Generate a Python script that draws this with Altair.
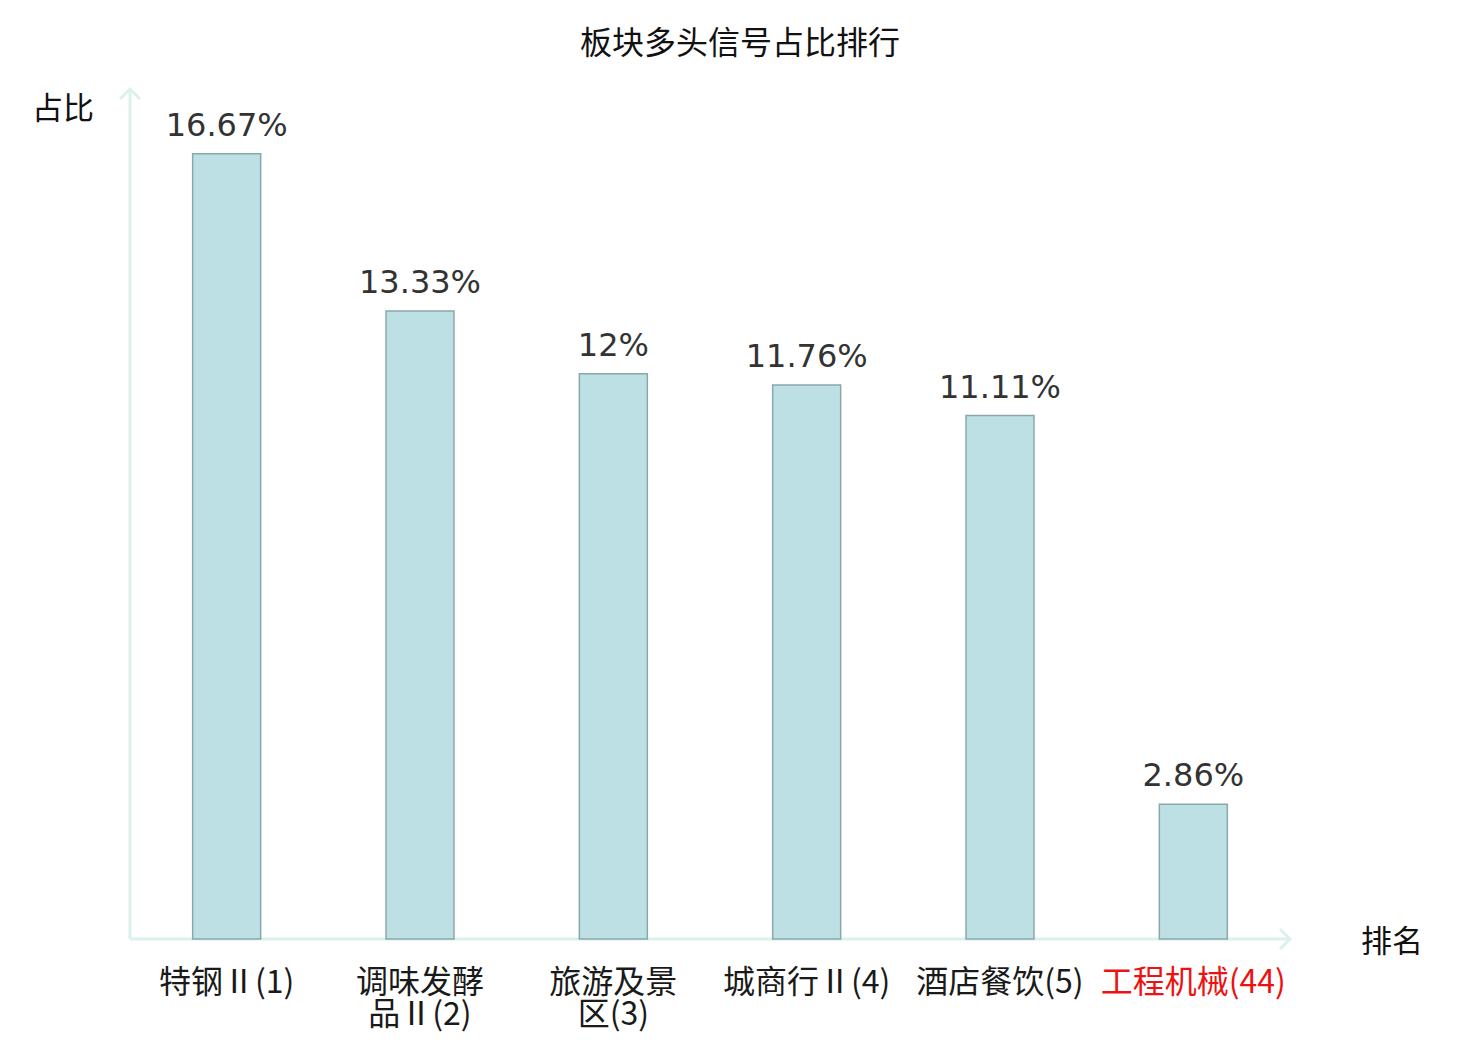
import altair as alt
import pandas as pd

categories = ["特钢Ⅱ(1)", "调味发酵\n品Ⅱ(2)", "旅游及景\n区(3)", "城商行Ⅱ(4)", "酒店餐饮(5)", "工程机械(44)"]
values = [16.67, 13.33, 12.0, 11.76, 11.11, 2.86]
value_labels = ["16.67%", "13.33%", "12%", "11.76%", "11.11%", "2.86%"]
highlight = "工程机械"
title_text = "板块多头信号占比排行"
y_name = "占比"
x_name = "排名"

df = pd.DataFrame({"cat": categories, "val": values, "lbl": value_labels})

W, H = 1160, 848
CJK = "Noto Sans CJK SC"
AXIS_COLOR = "#dcf0ed"

x_enc = alt.X(
    "cat:N",
    sort=categories,
    scale=alt.Scale(paddingInner=0, paddingOuter=0),
    axis=alt.Axis(
        title=None,
        domain=False,
        ticks=False,
        labelAngle=0,
        labelFont=CJK,
        labelFontSize=32,
        labelLineHeight=32,
        labelPadding=28,
        labelLimit=400,
        labelExpr="split(datum.value, '\\n')",
        labelColor=alt.ExprRef(expr=f"indexof(datum.value, '{highlight}') >= 0 ? '#ee1111' : '#1a1a1a'"),
    ),
)
y_enc = alt.Y("val:Q", scale=alt.Scale(domain=[0, 18], nice=False, zero=True), axis=None)

base = alt.Chart(df)

bars = base.mark_bar(size=68, fill="#bce0e3", stroke="#8aa8a9", strokeWidth=1.5).encode(x=x_enc, y=y_enc)

texts = base.mark_text(
    font="DejaVu Sans", fontSize=32, color="#333333", baseline="alphabetic", dy=-18
).encode(x=alt.X("cat:N", sort=categories), y="val:Q", text="lbl:N")

one = alt.Chart(pd.DataFrame({"a": [0]}))

x_rule = one.mark_rule(color=AXIS_COLOR, strokeWidth=3).encode(
    x=alt.value(0), x2=alt.value(W), y=alt.value(H)
)
y_rule = one.mark_rule(color=AXIS_COLOR, strokeWidth=3).encode(
    x=alt.value(0), y=alt.value(-2), y2=alt.value(H)
)
x_arrow = one.mark_point(
    shape="M -1 -1 L 0 0 L -1 1", filled=False, size=400, stroke=AXIS_COLOR, strokeWidth=3, opacity=1
).encode(x=alt.value(W), y=alt.value(H))
y_arrow = one.mark_point(
    shape="M -1 1 L 0 0 L 1 1", filled=False, size=400, stroke=AXIS_COLOR, strokeWidth=3, opacity=1
).encode(x=alt.value(0), y=alt.value(-2))

title = one.mark_text(font=CJK, fontSize=32, color="#111111", align="center", baseline="middle").encode(
    x=alt.value(610), y=alt.value(-47), text=alt.value(title_text)
)
yname = one.mark_text(font=CJK, fontSize=31, color="#111111", align="center", baseline="middle").encode(
    x=alt.value(-67), y=alt.value(19), text=alt.value(y_name)
)
xname = one.mark_text(font=CJK, fontSize=31, color="#111111", align="center", baseline="middle").encode(
    x=alt.value(1262), y=alt.value(852), text=alt.value(x_name)
)

chart = (
    alt.layer(x_rule, y_rule, bars, texts, x_arrow, y_arrow, title, yname, xname)
    .properties(
        width=W,
        height=H,
        autosize=alt.AutoSizeParams(type="none"),
        padding={"left": 122, "top": 83, "right": 182, "bottom": 93},
        background="white",
    )
    .configure_view(stroke=None)
    .configure_axis(grid=False)
)

chart.save("out.html", embed_options={"renderer": "svg", "actions": False})
